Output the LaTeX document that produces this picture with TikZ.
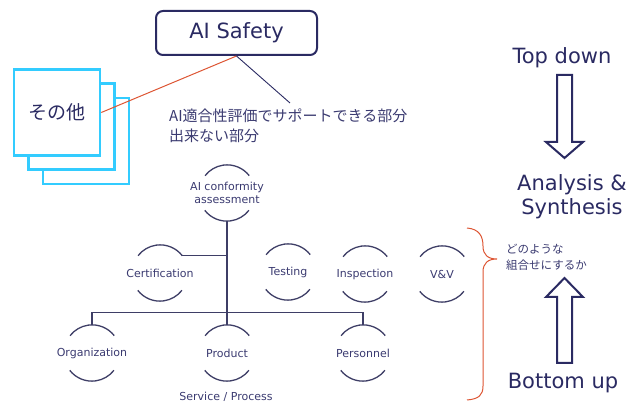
\documentclass[tikz,border=0pt]{standalone}
\usepackage{fontspec}
\setmainfont{DejaVu Sans}
\newfontfamily\jp{Noto Sans CJK JP}
\definecolor{navy}{HTML}{2A2A62}
\definecolor{txt}{HTML}{3A3A70}
\definecolor{tline}{HTML}{3E3E66}
\definecolor{cy}{HTML}{33CCFF}
\definecolor{rd}{HTML}{DD5533}
\tikzset{
  sq/.style={draw=cy, line width=2.6pt, fill=white, minimum size=86pt, inner sep=0pt},
  tnode/.style={circle, minimum size=56pt, inner sep=0pt},
  tlab/.style={text=txt, font=\fontsize{11}{13}\selectfont, align=center},
  arcs/.style={draw=tline, line width=1.3pt},
  bigtxt/.style={text=navy, font=\fontsize{21}{25}\selectfont, align=center},
  blockarrow/.style={draw=navy, line width=2pt, fill=white, line join=miter}
}
\newcommand{\tarcs}[1]{%
  \draw[arcs] (#1.38) arc[start angle=38, end angle=142, radius=28pt];
  \draw[arcs] (#1.-142) arc[start angle=-142, end angle=-38, radius=28pt];}
\begin{document}
\begin{tikzpicture}[x=1pt,y=-1pt]
\useasboundingbox (0,0) rectangle (633,403);
% AI Safety
\node[draw=navy, line width=2pt, rounded corners=7pt, minimum width=161pt, minimum height=44pt, text=navy, font=\fontsize{21}{25}\selectfont] (safety) at (236.5,33) {AI Safety};
% stacked squares
\node[sq] (s3) at (86,141) {};
\node[sq] (s2) at (71.5,126.5) {};
\node[sq] (s1) at (57,112.5) {};
\node[text=navy, font=\jp\fontsize{19}{22}\selectfont] (other) at (57,112.5) {その他};
\draw[rd, line width=1pt] (s1.east) -- (safety.south);
\coordinate (noteend) at (290,103);
\draw[navy, line width=0.9pt] (safety.south) -- (noteend);
\node[anchor=north west, text=txt, font=\jp\fontsize{15}{19.5}\selectfont, align=left, inner sep=0pt] (note) at (169,109) {AI適合性評価でサポートできる部分\\出来ない部分};
% tree
\node[tnode, label={[tlab]center:AI conformity\\assessment}] (ai) at (227,193) {};
\node[tnode, label={[tlab]center:Certification}] (cert) at (160,273) {};
\node[tnode, label={[tlab]center:Testing}] (test) at (288,272) {};
\node[tnode, label={[tlab]center:Inspection}] (insp) at (365,274) {};
\node[tnode, label={[tlab]center:V\&V}] (vv) at (442,274) {};
\node[tnode, label={[tlab]center:Organization}] (org) at (92,353) {};
\node[tnode, label={[tlab]center:Product}] (prod) at (227,353) {};
\node[tnode, label={[tlab]center:Personnel}] (pers) at (363,353) {};
\foreach \n in {ai,cert,test,insp,vv,org,prod,pers}{\tarcs{\n}}
\node[tlab] (svc) at (226,397) {Service / Process};
\draw[arcs] (ai.south) -- (prod.north);
\draw[arcs] (cert.39) -- (cert.39 -| ai.south);
\coordinate (busl) at (92,312.5);
\draw[arcs] (org.north) -- (busl) -| (pers.north);
% brace
\draw[rd, line width=1pt] (467,228) .. controls (479,229) and (483,236) .. (483,246) .. controls (483,255) and (488,259) .. (497,259) .. controls (488,259) and (483,263) .. (483,272) -- (483,386) .. controls (483,395) and (479,399) .. (467,400);
\node[anchor=north west, text=txt, font=\jp\fontsize{11.5}{16}\selectfont, align=left, inner sep=0pt] (combo) at (506,244) {どのような\\組合せにするか};
% right side
\node[bigtxt] (top) at (562,58) {Top down};
\node[bigtxt, font=\fontsize{21}{24}\selectfont] (anal) at (572,197) {Analysis \&\\Synthesis};
\node[bigtxt] (bot) at (563,383) {Bottom up};
\draw[blockarrow] (557,75) -- (572,75) -- (572,142) -- (583,142) -- (564.5,158) -- (546,142) -- (557,142) -- cycle;
\draw[blockarrow] (564.5,278) -- (583,297) -- (572,297) -- (572,363) -- (557,363) -- (557,297) -- (546,297) -- cycle;
\end{tikzpicture}
\end{document}
